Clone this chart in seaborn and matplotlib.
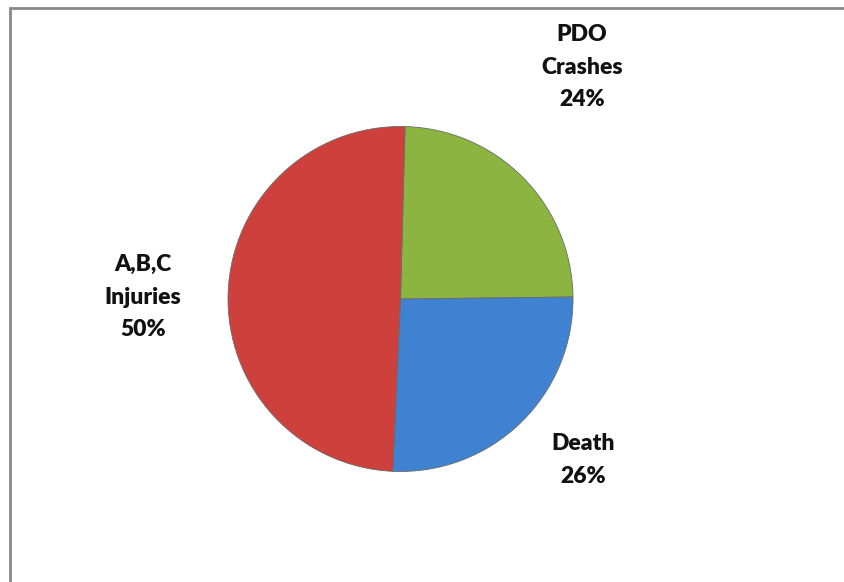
import matplotlib
matplotlib.use("Agg")
import matplotlib.pyplot as plt
import matplotlib.patches as mpatches
import seaborn as sns

categories = ["PDO\nCrashes", "Death", "A,B,C\nInjuries"]
shares = [24.4, 25.9, 49.7]
colors = ["#8CB440", "#3F82D1", "#CD403C"]

sns.set_theme(style="white")
plt.rcParams["font.family"] = ["Lato", "DejaVu Sans"]

W, H = 844, 582
fig = plt.figure(figsize=(W / 100, H / 100), dpi=100)
fig.patch.set_facecolor("white")

cx, cy, r = 400.5, 299, 172.5
ax = fig.add_axes([(cx - r) / W, (H - cy - r) / H, 2 * r / W, 2 * r / H])
wedges, _ = ax.pie(shares, colors=colors, startangle=88.5, counterclock=False,
                   radius=1.0, wedgeprops=dict(linewidth=0.6, edgecolor="#6a6a6a"))
ax.set_xlim(-1, 1)
ax.set_ylim(-1, 1)
ax.set_aspect("equal")
ax.axis("off")

# label positions in pixel coords of the figure
label_pos = [(582, 67), (583, 460), (143, 297)]
for name, val, (px, py) in zip(categories, shares, label_pos):
    fig.text(px / W, 1 - py / H, f"{name}\n{val:.0f}%", ha="center", va="center",
             fontsize=16.5, fontweight="heavy", color="#111111", linespacing=1.7)

border = mpatches.Rectangle((9.5 / W, -0.05), 1.1, 1 - 7.5 / H + 0.05,
                            transform=fig.transFigure, fill=False,
                            edgecolor="#878787", linewidth=2.0)
fig.patches.append(border)

fig.savefig("out.png", dpi=100, facecolor="white")
